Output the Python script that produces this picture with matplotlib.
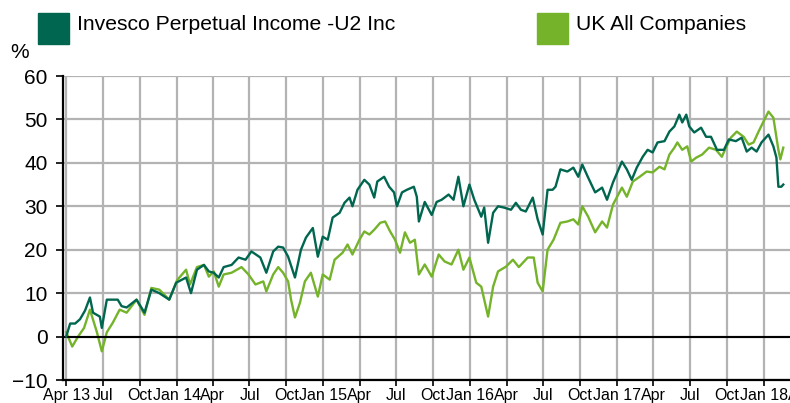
import numpy as np
import pandas as pd
import matplotlib
matplotlib.use("Agg")
import matplotlib.pyplot as plt

plt.rcParams['font.family'] = ['Liberation Sans', 'DejaVu Sans']

# months since 1 Apr 2013 / cumulative performance in %
fund_m = [0.0, 0.32, 0.73, 1.13, 1.54, 1.94, 2.19, 2.75, 2.91, 3.32, 4.21, 4.53, 4.94,
          5.75, 6.40, 6.96, 7.61, 8.42, 8.99, 9.80, 10.20, 10.69, 11.26, 11.66, 12.06,
          12.47, 12.87, 13.52, 14.09, 14.66, 15.14, 15.87, 16.36, 16.92, 17.33, 17.73,
          18.14, 18.54, 18.70, 19.19, 19.60, 20.16, 20.57, 20.97, 21.38, 21.78, 22.35,
          22.75, 23.16, 23.40, 23.81, 24.37, 24.78, 25.18, 25.43, 25.99, 26.40, 26.80,
          27.04, 27.45, 27.85, 28.42, 28.66, 28.83, 29.31, 29.88, 30.28, 30.69, 31.26,
          31.66, 32.06, 32.47, 32.96, 33.36, 33.93, 34.17, 34.49, 34.90, 35.30, 35.79,
          36.36, 36.76, 37.17, 37.57, 38.14, 38.54, 38.95, 39.35, 39.76, 40.0, 40.40,
          40.97, 41.46, 41.86, 42.19, 42.67, 43.24, 43.81, 44.21, 44.70, 45.43, 45.83,
          46.23, 46.64, 47.13, 47.53, 47.94, 48.34, 48.91, 49.31, 49.72, 50.12, 50.36,
          50.69, 50.93, 51.34, 51.90, 52.31, 52.71, 53.20, 53.77, 54.17, 54.74, 55.22,
          55.63, 56.03, 56.44, 56.84, 57.41, 57.81, 58.06, 58.22, 58.46, 58.62]
fund_v = [0, 3, 3, 4, 6, 9, 5.5, 4.6, 2, 8.5, 8.5, 7, 6.7,
          8.5, 5.5, 10.8, 10, 8.5, 12.4, 13.6, 10, 15.4, 16.5, 15, 14.7,
          13.6, 16, 16.5, 18.2, 17.7, 19.6, 18.2, 14.7, 19.6, 20.7, 20.5,
          18.4, 15, 13.6, 20, 22.8, 25, 18.4, 23, 22.3, 27.4, 28.5,
          30.8, 32, 30, 33.8, 36.1, 35, 32, 35.7, 36.8, 34.5, 33.2,
          30, 33.2, 33.8, 34.5, 32.2, 26.5, 31, 28, 31, 31.5, 32.7,
          31.5, 36.8, 30, 35, 31.5, 27.6, 29.7, 21.6, 28.5, 30, 29.7,
          29.2, 30.8, 29.2, 28.8, 32, 27, 23.5, 33.8, 33.8, 34.5, 38.5,
          38, 38.9, 36.8, 39.6, 36.6, 33.2, 34.3, 31.5, 35.5, 40.3, 38.5,
          36.1, 38.9, 41.4, 43, 42.4, 44.7, 45, 47.2, 48.4, 51.1, 49.3,
          51.1, 48.4, 47, 48.1, 46, 46, 43, 43, 45.4, 45, 45.8,
          42.6, 43.5, 42.6, 44.7, 46.5, 43.8, 41.2, 34.5, 34.5, 35]

sector_m = [0.0, 0.49, 0.97, 1.46, 1.94, 2.51, 2.91, 3.32, 3.81, 4.37, 4.94, 5.75,
            6.40, 6.96, 7.61, 8.42, 9.07, 9.80, 10.12, 10.69, 11.26, 11.66, 12.06,
            12.47, 12.87, 13.52, 14.33, 14.90, 15.47, 16.11, 16.36, 16.92, 17.33,
            17.73, 18.14, 18.38, 18.70, 19.11, 19.51, 20.0, 20.57, 20.97, 21.54,
            21.94, 22.59, 23.00, 23.40, 23.97, 24.37, 24.78, 25.18, 25.67, 26.07,
            26.48, 26.88, 27.29, 27.69, 28.10, 28.50, 28.83, 29.31, 29.88, 30.45,
            30.93, 31.50, 32.06, 32.47, 32.96, 33.52, 33.93, 34.49, 34.90, 35.30,
            35.95, 36.52, 37.00, 37.73, 38.22, 38.54, 38.95, 39.35, 39.84, 40.40,
            40.97, 41.46, 41.86, 42.19, 42.67, 43.24, 43.81, 44.21, 44.70, 45.43,
            45.83, 46.32, 46.88, 47.45, 47.94, 48.50, 48.91, 49.31, 49.72, 49.96,
            50.36, 50.77, 51.09, 51.50, 51.98, 52.55, 53.12, 53.60, 53.93, 54.33,
            54.82, 55.38, 55.79, 56.19, 56.60, 57.00, 57.41, 57.81, 58.22, 58.38, 58.62]
sector_v = [1, -2.3, 0, 2, 6.2, 1, -3.4, 1, 3.2, 6.2, 5.5, 8.5,
            5, 11.2, 10.8, 8.5, 13, 15.4, 12, 16, 16.5, 13.8, 15,
            11.5, 14.3, 14.7, 16, 14.3, 12, 12.7, 10.4, 14.3, 16,
            14.7, 12.7, 8.5, 4.4, 7.8, 12.7, 14.7, 9.2, 14.3, 13.1,
            17.7, 19.3, 21.2, 18.9, 22.3, 24.2, 23.5, 24.6, 26.2, 26.5,
            24.2, 22.3, 19.3, 24, 21.6, 22.3, 14.3, 16.6, 13.8, 18.9,
            17.3, 16.6, 20, 15.4, 18.2, 12.4, 11.5, 4.6, 11.5, 15,
            16.1, 17.7, 16, 18.2, 18.2, 12.4, 10.4, 20, 22.3, 26.2,
            26.5, 27, 25.8, 30, 27.6, 24, 26.5, 25.1, 30.4, 34.3,
            32.2, 35.7, 36.8, 38, 37.8, 39.1, 38.5, 41.9, 43.5, 44.7,
            43, 43.8, 40.3, 41.2, 41.9, 43.5, 43, 41.4, 43.5, 45.8,
            47.2, 46, 44.2, 44.7, 47.2, 49.5, 51.8, 50.4, 43, 40.8, 43.5]

names = ["Invesco Perpetual Income -U2 Inc", "UK All Companies"]
colors = ["#00664F", "#74B32A"]

start = pd.Timestamp("2013-04-01")
def to_dates(m):
    return start + pd.to_timedelta(np.array(m) * 30.44, unit="D")

fig = plt.figure(figsize=(7.9, 4.03), dpi=100)
ax = fig.add_axes([63 / 790, 23 / 403, 737 / 790, 304 / 403])

ax.plot(to_dates(fund_m), fund_v, color=colors[0], lw=1.7, zorder=3)
ax.plot(to_dates(sector_m), sector_v, color=colors[1], lw=1.7, zorder=2)

ax.set_ylim(-10, 60)
ax.set_yticks(range(-10, 61, 10))
ax.set_xlim(pd.Timestamp("2013-03-24"), start + pd.Timedelta(days=59.43 * 30.44))

ticks = pd.date_range("2013-04-01", "2018-04-01", freq="QS-JAN")
labels = []
for t in ticks:
    if t.month == 1 or t == ticks[0]:
        labels.append(t.strftime("%b %y"))
    else:
        labels.append(t.strftime("%b"))
ax.set_xticks(ticks)
ax.set_xticklabels(labels)

ax.grid(True, color="#B3B3B3", lw=1.6)
ax.set_axisbelow(True)
ax.axhline(0, color="black", lw=1.5, zorder=2.5)

for s in ["top", "right"]:
    ax.spines[s].set_visible(False)
ax.spines["left"].set_linewidth(1.6)
ax.spines["bottom"].set_linewidth(1.6)
ax.tick_params(axis="y", labelsize=15, length=5, width=1.2, pad=6)
ax.tick_params(axis="x", labelsize=11.5, length=4, width=1.2, pad=1.5)

fig.text(10 / 790, 1 - 53 / 403, "%", fontsize=15, va="center", ha="left")

# legend
for i, (x0, xt) in enumerate([(38, 77), (537, 576)]):
    fig.patches.append(plt.Rectangle((x0 / 790, 1 - 44 / 403), 31 / 790, 31 / 403,
                                     transform=fig.transFigure, color=colors[i]))
    fig.text(xt / 790, 1 - 24 / 403, names[i], fontsize=15.2, va="center", ha="left")

fig.savefig("out.png", dpi=100)
